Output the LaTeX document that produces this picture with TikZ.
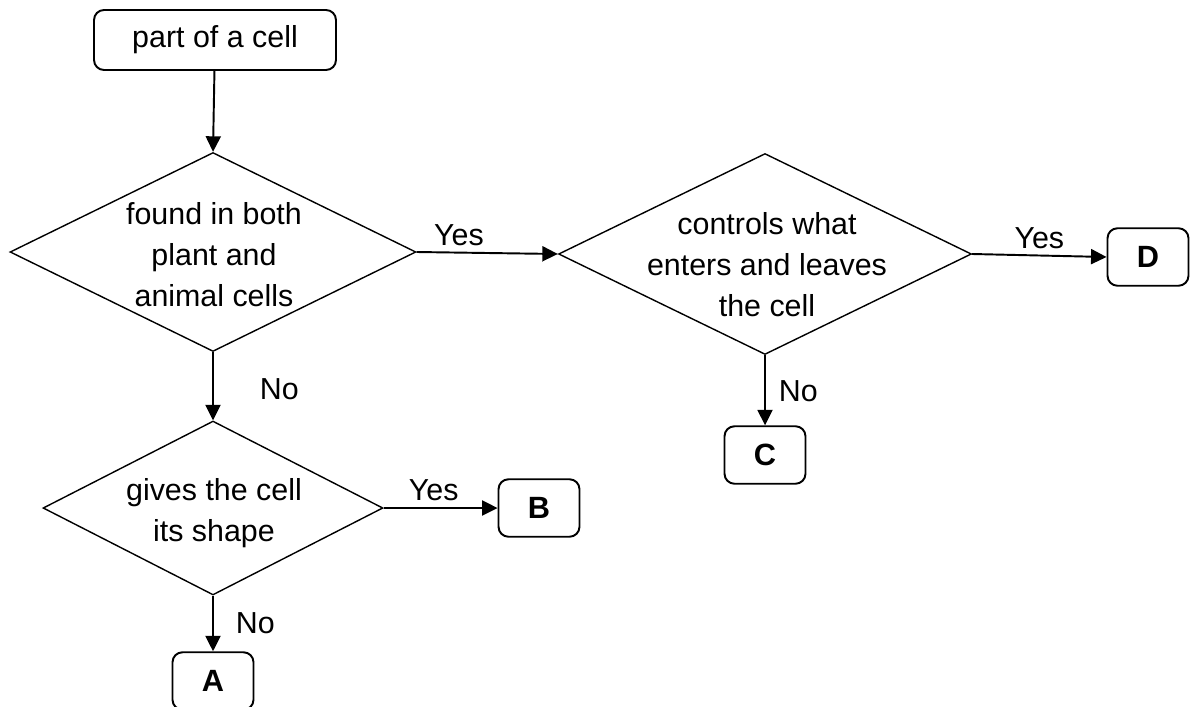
\documentclass[tikz,border=0pt]{standalone}
\usepackage{fontspec}
\setmainfont{Liberation Sans}
\usetikzlibrary{shapes.geometric, positioning, arrows.meta}

\tikzset{
       decision/.style={diamond, draw, line width=0.8pt, inner sep=0pt},
       startbox/.style={draw, rounded corners=0.2cm, line width=1.1pt, minimum width=4.84cm, minimum height=1.2cm, font=\fontsize{17.3}{21}\selectfont},
       endbox/.style={draw, rounded corners=0.2cm, line width=1.1pt, minimum width=1.62cm, minimum height=1.15cm, font=\bfseries\fontsize{17.5}{21}\selectfont},
       qtext/.style={align=center, font=\fontsize{17.3}{23.3}\selectfont},
       lbl/.style={font=\fontsize{17.3}{21}\selectfont},
       flow/.style={line width=1.1pt, -{Triangle[length=3.1mm,width=3mm]}}
}

\begin{document}
\begin{tikzpicture}[x=0.02cm, y=-0.02cm]
       \clip (0,0) rectangle (1192,706);
       \node[startbox] (start) at (215,40) {part of a cell};
       \node[decision, minimum width=8.12cm, minimum height=3.98cm] (q1) at (213,252) {};
       \node[qtext] at (214,255) {found in both\\plant and\\animal cells};
       \node[decision, minimum width=8.26cm, minimum height=4.02cm] (q2) at (765,254) {};
       \node[qtext] at (767,265) {controls what\\enters and leaves\\the cell};
       \node[decision, minimum width=6.8cm, minimum height=3.48cm] (q3) at (213,508) {};
       \node[qtext] at (214,513) {gives the cell\\its shape};
       \node[endbox] (D) at (1148,257) {D};
       \node[endbox] (C) at (765,455) {C};
       \node[endbox] (B) at (539,508) {B};
       \node[endbox] (A) at (213,681) {A};
       \draw[flow] (start) -- (q1.north);
       \draw[flow] (q1.east) -- node[lbl, pos=0.3, above] {Yes} (q2.west);
       \draw[flow] (q2.east) -- node[lbl, above] {Yes} (D.west);
       \draw[flow] (q2.south) -- node[lbl, pos=0.52, right=0.14cm] {No} (C.north);
       \draw[flow] (q1.south) -- node[lbl, pos=0.55, right=0.8cm] {No} (q3.north);
       \draw[flow] (q3.east) -- node[lbl, pos=0.44, above] {Yes} (B.west);
       \draw[flow] (q3.south) -- node[lbl, pos=0.5, right=0.32cm] {No} (A.north);
\end{tikzpicture}
\end{document}
